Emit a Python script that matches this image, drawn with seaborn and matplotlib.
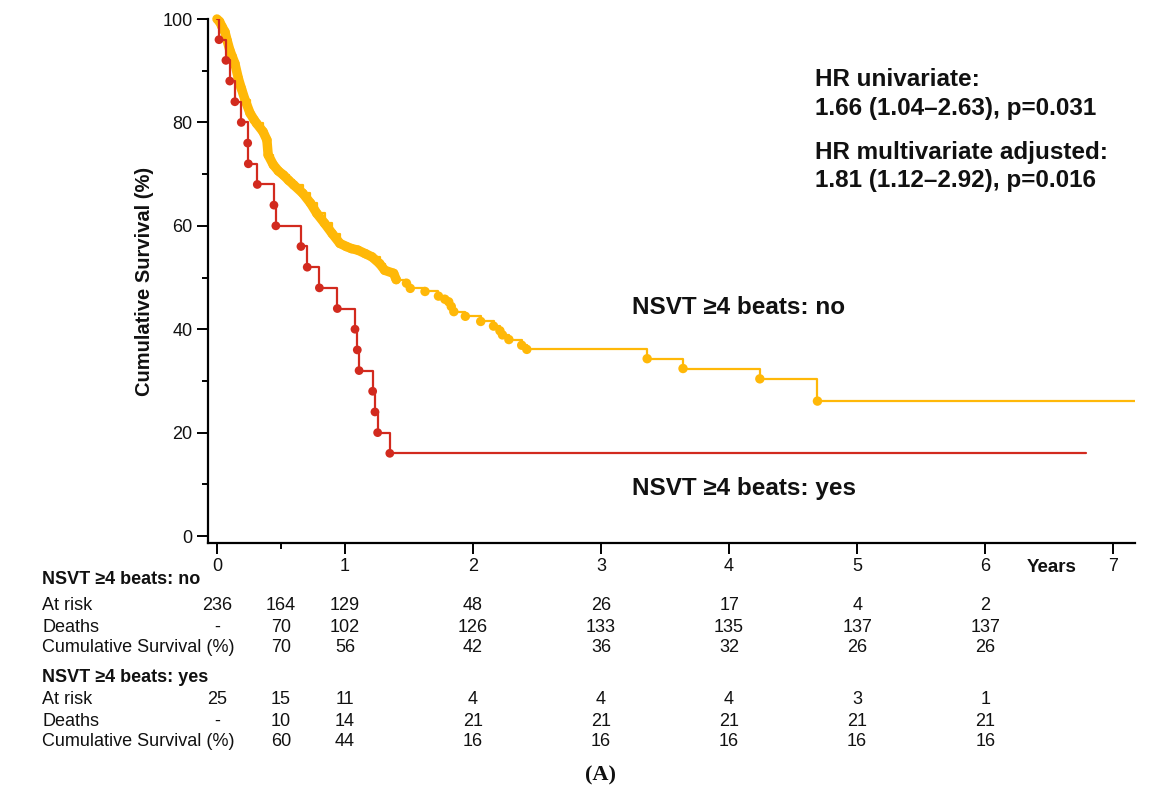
import matplotlib
matplotlib.use("Agg")
import matplotlib.pyplot as plt
import matplotlib.transforms as mtransforms
from matplotlib.ticker import FixedLocator
import seaborn as sns
import pandas as pd

# ---------------- data ----------------
# NSVT >=4 beats: yes  (event times in years, survival % after event)
red_t = [0.0, 0.016, 0.07, 0.10, 0.14, 0.19, 0.24, 0.245, 0.315, 0.445, 0.46,
         0.656, 0.705, 0.80, 0.94, 1.078, 1.096, 1.11, 1.216, 1.234, 1.255, 1.35, 6.79]
red_s = [100, 96, 92, 88, 84, 80, 76, 72, 68, 64, 60,
         56, 52, 48, 44, 40, 36, 32, 28, 24, 20, 16, 16]

# NSVT >=4 beats: no
yel_t = [0.0, 0.02, 0.04, 0.0625, 0.08, 0.10, 0.12, 0.14, 0.167, 0.19, 0.22, 0.258,
         0.29, 0.31, 0.36, 0.39, 0.40, 0.44, 0.48, 0.52, 0.56, 0.60, 0.67, 0.73,
         0.78, 0.84, 0.90, 0.96, 1.01, 1.05, 1.10, 1.16, 1.21, 1.27, 1.31, 1.38,
         1.40, 1.48, 1.51, 1.625, 1.73, 1.78, 1.81, 1.83, 1.85, 1.94, 2.06, 2.16,
         2.21, 2.23, 2.28, 2.38, 2.42, 3.36, 3.64, 4.24, 4.69, 7.17]
yel_s = [100, 99.5, 98.5, 97.5, 95.8, 94.0, 92.7, 91.4, 88.5, 86.6, 84.3, 81.8,
         80.5, 79.8, 78.2, 76.6, 73.7, 71.8, 70.6, 69.8, 68.8, 67.9, 66.3, 64.4,
         62.4, 60.5, 58.5, 56.6, 56.0, 55.6, 55.3, 54.6, 54.0, 52.7, 51.4, 50.8,
         49.6, 48.9, 47.9, 47.3, 46.4, 45.8, 45.3, 44.4, 43.4, 42.5, 41.5, 40.6,
         39.7, 38.9, 38.0, 36.9, 36.1, 34.3, 32.4, 30.4, 26.1, 26.1]

# risk table
table_t = [0, 0.5, 1, 2, 3, 4, 5, 6]
no_at_risk = ["236", "164", "129", "48", "26", "17", "4", "2"]
no_deaths = ["-", "70", "102", "126", "133", "135", "137", "137"]
no_cumsurv = ["", "70", "56", "42", "36", "32", "26", "26"]
yes_at_risk = ["25", "15", "11", "4", "4", "4", "3", "1"]
yes_deaths = ["-", "10", "14", "21", "21", "21", "21", "21"]
yes_cumsurv = ["", "60", "44", "16", "16", "16", "16", "16"]

x_ticks = [0, 1, 2, 3, 4, 5, 6, 7]
y_ticks = [0, 20, 40, 60, 80, 100]
y_minor = [10, 30, 50, 70, 90]

hr_lines = ["HR univariate:", "1.66 (1.04\u20132.63), p=0.031",
            "HR multivariate adjusted:", "1.81 (1.12\u20132.92), p=0.016"]

# ---------------- style ----------------
sns.set_style("ticks")
plt.rcParams["font.family"] = ["Liberation Sans", "DejaVu Sans"]

YEL = "#FFB808"
RED = "#D22A1E"
TXT = "#111111"

fig = plt.figure(figsize=(11.68, 7.99), dpi=100)
W, H = 1168, 799
ax = fig.add_axes([208 / W, 1 - 543 / H, (1135 - 208) / W, (543 - 19) / H])

red_df = pd.DataFrame({"t": red_t, "s": red_s})
yel_df = pd.DataFrame({"t": yel_t, "s": yel_s})

# yellow: dense band of overlapping censor/event dots in the early part
dense = yel_df[yel_df["t"] <= 1.45]
sns.lineplot(data=dense, x="t", y="s", ax=ax, color=YEL, linewidth=6.8,
             estimator=None, sort=False, legend=False, solid_capstyle="round",
             solid_joinstyle="round", clip_on=False, zorder=2)
sns.lineplot(data=yel_df, x="t", y="s", ax=ax, color=YEL, linewidth=1.6,
             estimator=None, sort=False, legend=False, drawstyle="steps-post",
             zorder=2)
sns.scatterplot(data=yel_df.iloc[1:-1], x="t", y="s", ax=ax, color=YEL, s=46,
                edgecolor="none", legend=False, zorder=3, clip_on=False)

# red curve
sns.lineplot(data=red_df, x="t", y="s", ax=ax, color=RED, linewidth=1.6,
             estimator=None, sort=False, legend=False, drawstyle="steps-post",
             zorder=4)
sns.scatterplot(data=red_df.iloc[1:-1], x="t", y="s", ax=ax, color=RED, s=40,
                edgecolor="none", legend=False, zorder=5)

ax.set_xlim(-0.07, 7.17)
ax.set_ylim(-1.35, 100)
ax.set_xlabel("")
ax.set_ylabel("Cumulative Survival (%)", fontsize=14.5, fontweight="bold",
              color=TXT, labelpad=6)
ax.set_xticks(x_ticks)
ax.set_xticklabels([str(v) for v in x_ticks])
ax.set_yticks(y_ticks)
ax.set_yticklabels([str(v) for v in y_ticks])
ax.xaxis.set_minor_locator(FixedLocator([0.5]))
ax.yaxis.set_minor_locator(FixedLocator(y_minor))
ax.tick_params(axis="both", which="major", direction="out", length=8,
               width=1.4, color="black", labelsize=13, labelcolor=TXT, pad=3)
ax.tick_params(axis="both", which="minor", direction="out", length=4,
               width=1.4, color="black")
for side in ["top", "right"]:
    ax.spines[side].set_visible(False)
for side in ["left", "bottom"]:
    ax.spines[side].set_linewidth(1.6)
    ax.spines[side].set_color("black")

# "Years" label next to tick labels
ax.text(6.52, (543 - 568) / 524, "Years",
        transform=mtransforms.blended_transform_factory(ax.transData, ax.transAxes),
        ha="center", va="center", fontsize=13.5, fontweight="bold", color=TXT)

# HR annotation
for txt, ypix in zip(hr_lines, [79, 108, 152, 181]):
    fig.text(815 / W, 1 - ypix / H, txt, ha="left", va="center",
             fontsize=17.5, fontweight="bold", color=TXT)

fig.text(632 / W, 1 - 308 / H, "NSVT \u22654 beats: no", ha="left", va="center",
         fontsize=17.5, fontweight="bold", color=TXT)
fig.text(632 / W, 1 - 488 / H, "NSVT \u22654 beats: yes", ha="left", va="center",
         fontsize=17.5, fontweight="bold", color=TXT)

# risk table
blend = mtransforms.blended_transform_factory(ax.transData, fig.transFigure)
rows = [
    ("NSVT \u22654 beats: no", None, 579, True),
    ("At risk", no_at_risk, 606, False),
    ("Deaths", no_deaths, 627, False),
    ("Cumulative Survival (%)", no_cumsurv, 647, False),
    ("NSVT \u22654 beats: yes", None, 677, True),
    ("At risk", yes_at_risk, 700, False),
    ("Deaths", yes_deaths, 721, False),
    ("Cumulative Survival (%)", yes_cumsurv, 742, False),
]
for label, vals, ypix, bold in rows:
    fig.text(42 / W, 1 - ypix / H, label, ha="left", va="center",
             fontsize=13, fontweight="bold" if bold else "normal", color=TXT)
    if vals is not None:
        for t, v in zip(table_t, vals):
            ax.text(t, 1 - ypix / H, v, transform=blend, ha="center",
                    va="center", fontsize=13, color=TXT)

fig.text(600 / W, 1 - 775 / H, "(A)", ha="center", va="center", fontsize=16,
         fontweight="bold", family=["Liberation Serif", "DejaVu Serif"], color=TXT)

fig.savefig("out.png", dpi=100)
